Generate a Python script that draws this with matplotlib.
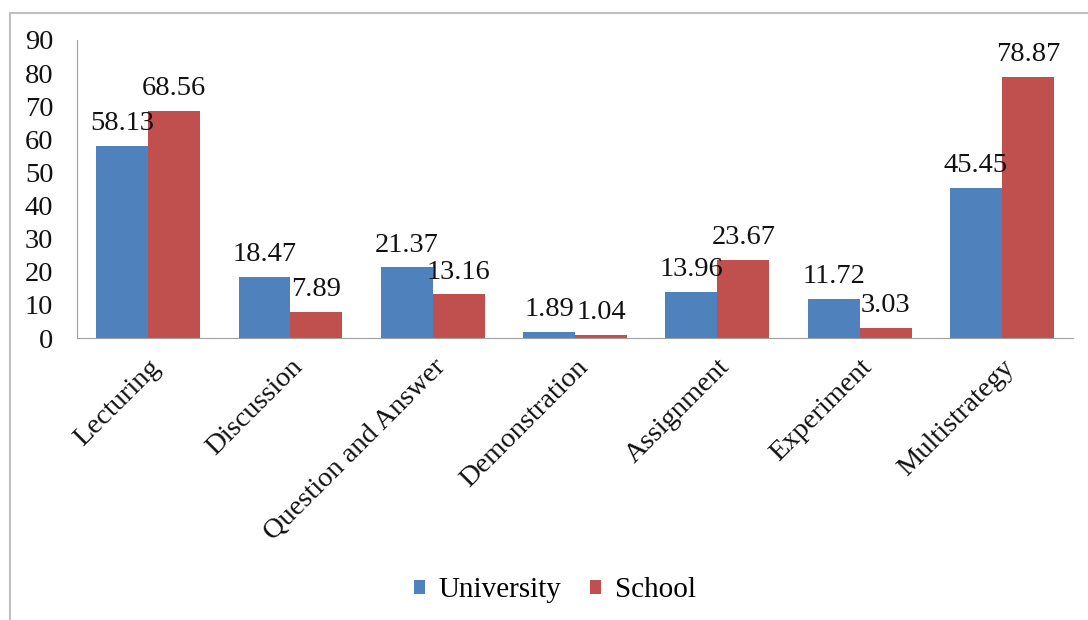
import numpy as np
import matplotlib
matplotlib.use('Agg')
import matplotlib.pyplot as plt
from matplotlib.patches import Rectangle

categories = ['Lecturing', 'Discussion', 'Question and Answer', 'Demonstration',
              'Assignment', 'Experiment', 'Multistrategy']
university = [58.13, 18.47, 21.37, 1.89, 13.96, 11.72, 45.45]
school = [68.56, 7.89, 13.16, 1.04, 23.67, 3.03, 78.87]

plt.rcParams['font.family'] = ['Liberation Serif', 'DejaVu Serif']

fig = plt.figure(figsize=(10.88, 6.2), dpi=100)
ax = fig.add_axes([0.0708, 0.4548, 0.9155, 0.4807])

x = np.arange(len(categories))
w = 0.365
b1 = ax.bar(x - w / 2, university, w, color='#4F81BD', label='University')
b2 = ax.bar(x + w / 2, school, w, color='#C0504D', label='School')

for bars in (b1, b2):
    for r in bars:
        ax.annotate('%.2f' % r.get_height(), (r.get_x() + r.get_width() / 2, r.get_height()),
                    xytext=(0, 7), textcoords='offset points', ha='center', va='bottom',
                    fontsize=20.5, color='#111111')

ax.set_xlim(-0.5, len(categories) - 0.5)
ax.set_ylim(0, 90)
ax.set_yticks(range(0, 91, 10))
ax.set_xticks(x)
ax.set_xticklabels(categories, rotation=45, ha='right', rotation_mode='anchor')
ax.tick_params(axis='both', length=0, labelsize=20.5, colors='#111111')
ax.tick_params(axis='y', pad=17)
ax.tick_params(axis='x', pad=12)
for s in ['top', 'right']:
    ax.spines[s].set_visible(False)
for s in ['left', 'bottom']:
    ax.spines[s].set_color('#A0A0A0')

ax.legend(loc='center', bbox_to_anchor=(0.51, 0.048), bbox_transform=fig.transFigure,
          ncol=2, frameon=False, fontsize=21, handlelength=0.38, handleheight=0.38,
          handletextpad=0.45, columnspacing=1.0)

# outer chart border (only top and left visible in the crop)
fig.patches.append(Rectangle((10 / 1088, -0.1), 1.2, 1 - 13 / 620 + 0.1, transform=fig.transFigure,
                             fill=False, edgecolor='#BFBFBF', linewidth=1.5))

fig.savefig('out.png', dpi=100)
